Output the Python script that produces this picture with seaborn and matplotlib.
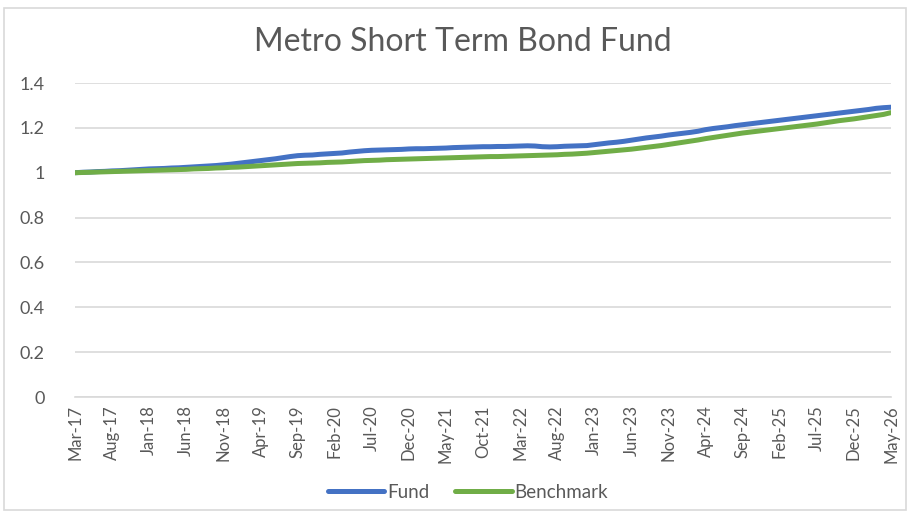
import matplotlib
matplotlib.use("Agg")
import matplotlib.pyplot as plt
from matplotlib.patches import Rectangle
import seaborn as sns
import pandas as pd
import numpy as np

# ---------------- data ----------------
months = pd.date_range("2017-03-01", periods=111, freq="MS").strftime("%b-%y").tolist()

fund = [
    1.000, 1.002, 1.003, 1.005, 1.006, 1.008, 1.009, 1.011, 1.013, 1.015,
    1.017, 1.018, 1.019, 1.021, 1.022, 1.024, 1.026, 1.028, 1.030, 1.032,
    1.035, 1.038, 1.042, 1.046, 1.050, 1.054, 1.058, 1.062, 1.067, 1.072,
    1.076, 1.078, 1.079, 1.082, 1.084, 1.086, 1.088, 1.092, 1.095, 1.098,
    1.100, 1.101, 1.102, 1.103, 1.104, 1.106, 1.107, 1.107, 1.108, 1.109,
    1.110, 1.112, 1.113, 1.114, 1.115, 1.116, 1.116, 1.117, 1.117, 1.118,
    1.119, 1.120, 1.119, 1.116, 1.115, 1.116, 1.118, 1.119, 1.120, 1.121,
    1.125, 1.129, 1.133, 1.136, 1.140, 1.145, 1.150, 1.155, 1.159, 1.163,
    1.168, 1.172, 1.176, 1.180, 1.185, 1.192, 1.197, 1.201, 1.205, 1.210,
    1.214, 1.218, 1.222, 1.226, 1.230, 1.234, 1.238, 1.242, 1.246, 1.250,
    1.254, 1.258, 1.262, 1.266, 1.270, 1.274, 1.278, 1.282, 1.287, 1.290,
    1.292,
]

benchmark = [
    1.000, 1.001, 1.002, 1.003, 1.004, 1.005, 1.006, 1.007, 1.008, 1.009,
    1.010, 1.011, 1.012, 1.013, 1.014, 1.015, 1.017, 1.018, 1.019, 1.021,
    1.022, 1.024, 1.025, 1.027, 1.029, 1.031, 1.033, 1.035, 1.037, 1.039,
    1.041, 1.042, 1.043, 1.044, 1.046, 1.047, 1.048, 1.050, 1.052, 1.054,
    1.055, 1.056, 1.058, 1.059, 1.060, 1.061, 1.062, 1.063, 1.064, 1.065,
    1.066, 1.067, 1.068, 1.069, 1.070, 1.071, 1.072, 1.072, 1.073, 1.074,
    1.075, 1.076, 1.077, 1.078, 1.079, 1.080, 1.082, 1.083, 1.085, 1.087,
    1.090, 1.093, 1.096, 1.099, 1.102, 1.105, 1.109, 1.113, 1.117, 1.121,
    1.126, 1.131, 1.136, 1.141, 1.146, 1.152, 1.157, 1.162, 1.167, 1.172,
    1.177, 1.181, 1.185, 1.189, 1.193, 1.197, 1.201, 1.205, 1.209, 1.213,
    1.217, 1.222, 1.227, 1.232, 1.236, 1.240, 1.245, 1.250, 1.255, 1.260,
    1.268,
]

series_names = ["Fund", "Benchmark"]
colors = ["#4472C4", "#70AD47"]
y_ticks = [0, 0.2, 0.4, 0.6, 0.8, 1.0, 1.2, 1.4]
y_tick_labels = ["0", "0.2", "0.4", "0.6", "0.8", "1", "1.2", "1.4"]

# ---------------- build frame ----------------
idx = list(range(len(months)))
df = pd.DataFrame({
    "idx": idx * 2,
    "value": fund + benchmark,
    "series": ["Fund"] * len(fund) + ["Benchmark"] * len(benchmark),
})

sns.set_theme(style="white")
plt.rcParams["font.family"] = ["Lato", "DejaVu Sans"]
txt_color = "#595959"

fig = plt.figure(figsize=(9.10, 5.13), dpi=100)
ax = fig.add_axes([75 / 910, 116 / 513, 816 / 910, 314 / 513])

sns.lineplot(data=df, x="idx", y="value", hue="series", hue_order=series_names,
             palette=colors, linewidth=3.6, ax=ax, legend=False)

ax.set_xlim(0, len(months) - 1)
ax.set_ylim(0, 1.4)
ax.set_yticks(y_ticks)
ax.set_yticklabels(y_tick_labels, color=txt_color, fontsize=13)
tick_pos = idx[::5]
ax.set_xticks(tick_pos)
ax.set_xticklabels([months[i] for i in tick_pos], rotation=90, color=txt_color,
                   fontsize=12)
ax.tick_params(axis="both", length=0, pad=6)
ax.tick_params(axis="y", pad=22)
ax.set_xlabel("")
ax.set_ylabel("")
ax.grid(axis="y", color="#D9D9D9", linewidth=1.2)
ax.grid(axis="x", visible=False)
for s in ["top", "right", "left"]:
    ax.spines[s].set_visible(False)
ax.spines["bottom"].set_color("#D9D9D9")
ax.spines["bottom"].set_linewidth(1.2)

# title
fig.text(463 / 910, 1 - 42 / 513, "Metro Short Term Bond Fund", ha="center",
         va="center", fontsize=23, color=txt_color)

# legend
handles = [plt.Line2D([], [], color=c, linewidth=3.6, solid_capstyle="round")
           for c in colors]
fig.legend(handles, series_names, loc="center", bbox_to_anchor=(468 / 910, 1 - 492 / 513),
           ncol=2, frameon=False, fontsize=13.5, labelcolor=txt_color,
           handlelength=3.0, handletextpad=0.15, columnspacing=1.4)

# outer chart border
fig.patches.append(Rectangle((4 / 910, 3 / 513), 902 / 910, 502 / 513,
                             transform=fig.transFigure, fill=False,
                             edgecolor="#D9D9D9", linewidth=1.2))

fig.savefig("out.png", dpi=100, facecolor="white")
